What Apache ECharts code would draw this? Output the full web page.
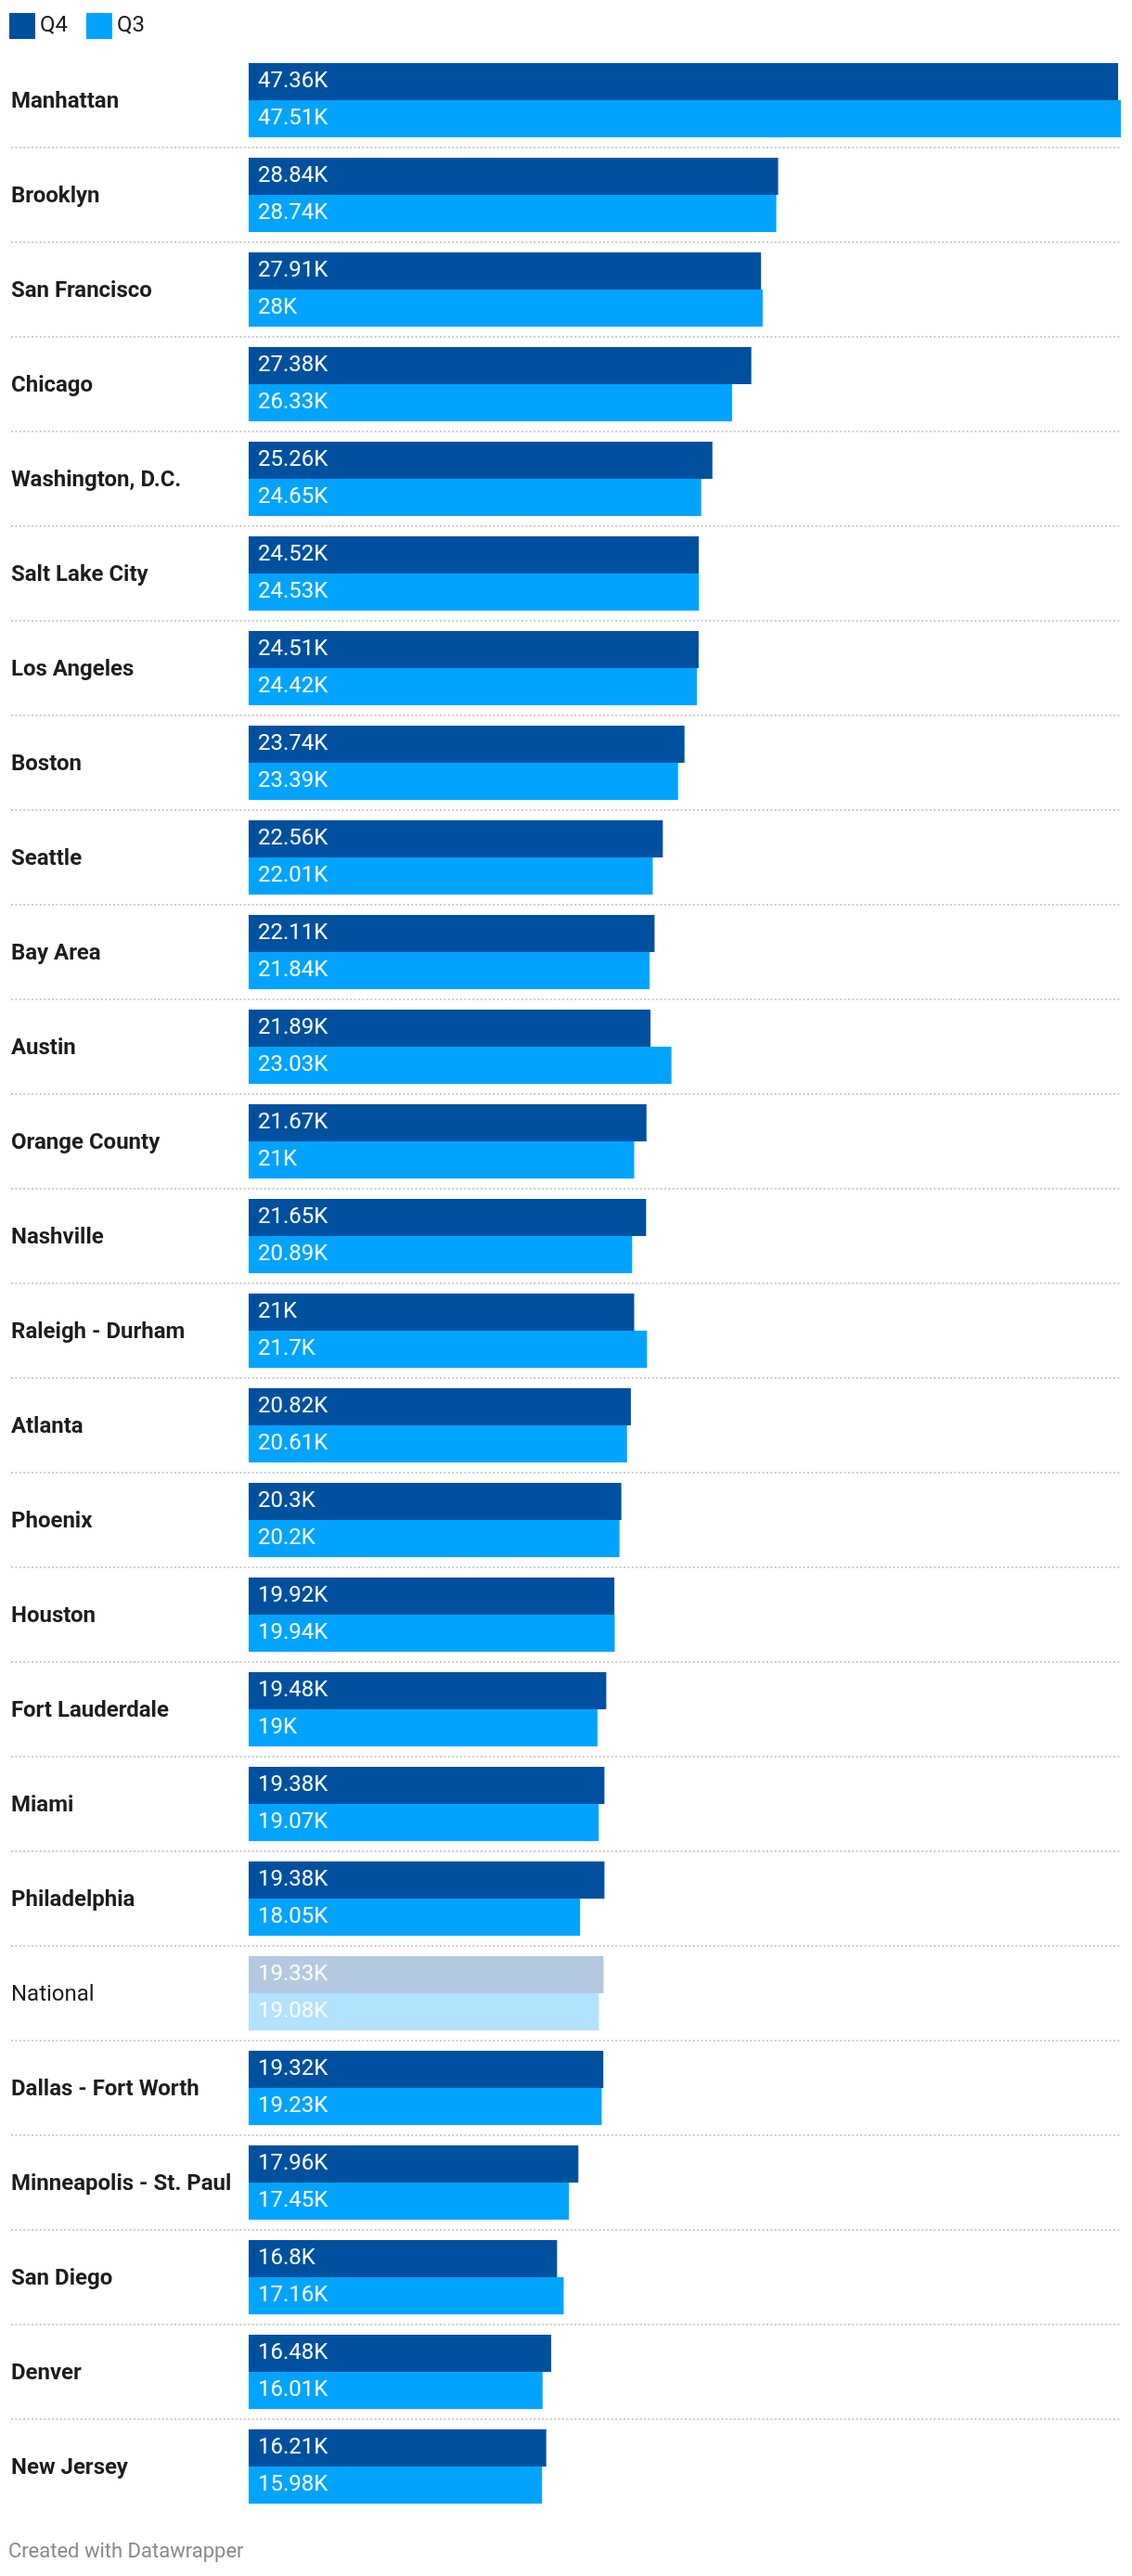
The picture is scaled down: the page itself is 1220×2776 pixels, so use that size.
<!DOCTYPE html>
<html>
<head>
<meta charset="utf-8">
<script src="https://cdn.jsdelivr.net/npm/echarts@6/dist/echarts.min.js"></script>
<style>
html,body{margin:0;padding:0;background:#fff;}
#chart{width:1220px;height:2776px;}
</style>
</head>
<body>
<div id="chart"></div>
<script>
const cities = ["Manhattan","Brooklyn","San Francisco","Chicago","Washington, D.C.","Salt Lake City","Los Angeles","Boston","Seattle","Bay Area","Austin","Orange County","Nashville","Raleigh - Durham","Atlanta","Phoenix","Houston","Fort Lauderdale","Miami","Philadelphia","National","Dallas - Fort Worth","Minneapolis - St. Paul","San Diego","Denver","New Jersey"];
const q4 = [47.36,28.84,27.91,27.38,25.26,24.52,24.51,23.74,22.56,22.11,21.89,21.67,21.65,21,20.82,20.3,19.92,19.48,19.38,19.38,19.33,19.32,17.96,16.8,16.48,16.21];
const q3 = [47.51,28.74,28,26.33,24.65,24.53,24.42,23.39,22.01,21.84,23.03,21,20.89,21.7,20.61,20.2,19.94,19,19.07,18.05,19.08,19.23,17.45,17.16,16.01,15.98];
const seriesNames = ["Q4","Q3"];
const highlightCategory = "National";

const FONT = "Roboto";
const C_Q4 = "#0050a0", C_Q3 = "#00a4ff";
const C_Q4_NAT = "#b3c9e1", C_Q3_NAT = "#b1e2fe";

// layout: bars start at x=268, max value reaches x=1208, labels start at x=12
const gridLeft = 12, barStart = 268, barEnd = 1208;
const xMax = Math.max(...q4, ...q3);
const xMin = -xMax * (barStart - gridLeft) / (barEnd - barStart);

function mk(vals, natColor) {
  return vals.map((v, i) => cities[i] === highlightCategory
    ? { value: v, itemStyle: { color: natColor } }
    : { value: v });
}

const chart = echarts.init(document.getElementById('chart'), null, {renderer: 'canvas'});
chart.setOption({
  backgroundColor: '#fff',
  animation: false,
  textStyle: { fontFamily: FONT },
  title: {
    text: 'Created with Datawrapper',
    left: 9, top: 2739, padding: 0,
    textStyle: { fontFamily: FONT, fontSize: 22, fontWeight: 'normal', color: '#8a8a8a' }
  },
  legend: {
    data: seriesNames,
    left: 10, top: 14, padding: 0,
    icon: 'rect', itemWidth: 28, itemHeight: 28, itemGap: 20,
    selectedMode: false,
    textStyle: { fontFamily: FONT, fontSize: 24, color: '#1d1d1d' }
  },
  grid: { left: gridLeft, right: 1220 - barEnd, top: 57, bottom: 2776 - (57 + 26 * 102), containLabel: false },
  xAxis: { type: 'value', min: xMin, max: xMax, show: false },
  yAxis: {
    type: 'category', data: cities, inverse: true,
    axisLine: { show: false, onZero: false },
    axisTick: { show: false },
    splitLine: {
      show: true, showMinLine: false, showMaxLine: false,
      lineStyle: { color: '#cccccc', type: [2, 2.4], width: 2 }
    },
    axisLabel: {
      align: 'left', margin: 0, padding: [4, 0, 0, 0],
      formatter: v => v === highlightCategory ? '{n|' + v + '}' : '{b|' + v + '}',
      rich: {
        b: { fontFamily: FONT, fontSize: 24, fontWeight: 'bold', color: '#1d1d1d' },
        n: { fontFamily: FONT, fontSize: 24, fontWeight: 'normal', color: '#1d1d1d' }
      }
    }
  },
  series: [
    {
      name: 'Q4', type: 'bar', data: mk(q4, C_Q4_NAT), barWidth: 40, barGap: '0%',
      itemStyle: { color: C_Q4 },
      label: { show: true, position: 'insideLeft', distance: 10, color: '#fff', fontFamily: FONT, fontSize: 24, formatter: p => p.value + 'K' }
    },
    {
      name: 'Q3', type: 'bar', data: mk(q3, C_Q3_NAT), barWidth: 40, barGap: '0%',
      itemStyle: { color: C_Q3 },
      label: { show: true, position: 'insideLeft', distance: 10, color: '#fff', fontFamily: FONT, fontSize: 24, formatter: p => p.value + 'K' }
    }
  ]
});
</script>
</body>
</html>
